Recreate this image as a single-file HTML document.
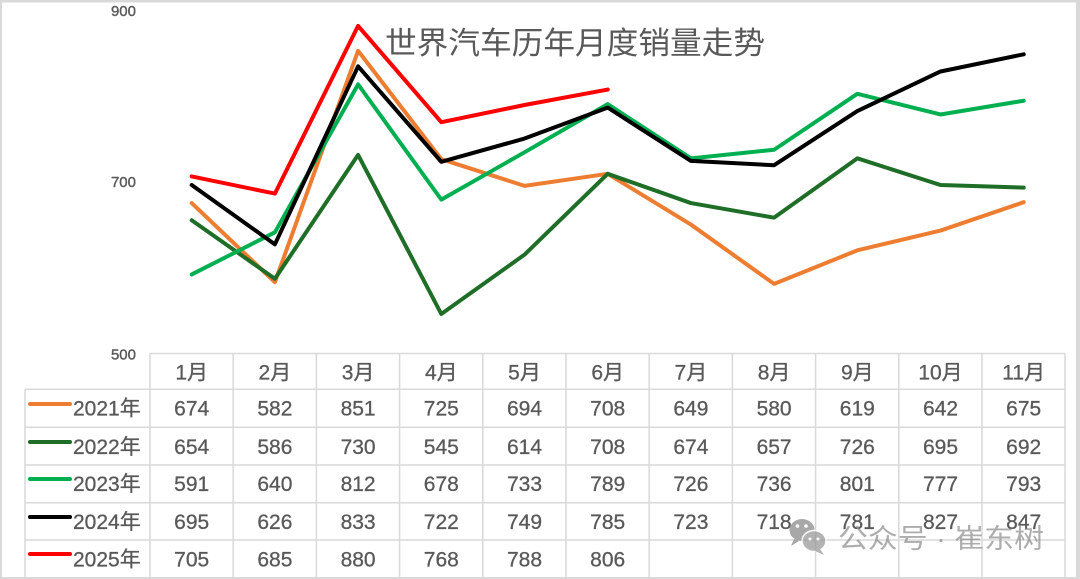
<!DOCTYPE html>
<html><head><meta charset="utf-8">
<style>
html,body{margin:0;padding:0;background:#fff;}
#wrap{position:relative;width:1080px;height:579px;overflow:hidden;background:#fff;}
svg{position:absolute;left:0;top:0;}
</style></head>
<body><div id="wrap">
<svg width="1080" height="579" viewBox="0 0 1080 579" xmlns="http://www.w3.org/2000/svg" font-family="'Liberation Sans','Noto Sans CJK SC',sans-serif">
<!-- outer frame -->
<rect x="0" y="0" width="1080" height="579" fill="#d9d9d9"/>
<rect x="2" y="2.5" width="1074" height="574.5" fill="#ffffff"/>

<!-- y labels -->
<g fill="#595959" font-size="15" text-anchor="end" stroke="#595959" stroke-width="0.4">
<text x="136" y="16">900</text>
<text x="136" y="187">700</text>
<text x="136" y="359.5">500</text>
</g>

<!-- title -->
<text x="385" y="54" font-size="31" fill="#595959" font-family="'Liberation Sans','Noto Sans CJK SC',sans-serif" textLength="380" lengthAdjust="spacingAndGlyphs">世界汽车历年月度销量走势</text>

<!-- series -->
<g fill="none" stroke-width="4" stroke-linejoin="round" stroke-linecap="round">
<polyline stroke="#ED7D31" points="191.7,203.06 274.9,282.18 358.1,50.84 441.3,159.2 524.5,185.86 607.7,173.82 690.9,224.56 774.1,283.9 857.3,250.36 940.5,230.58 1023.7,202.2"/>
<polyline stroke="#1F6E27" points="191.7,220.26 274.9,278.74 358.1,154.9 441.3,314.0 524.5,254.66 607.7,173.82 690.9,203.06 774.1,217.68 857.3,158.34 940.5,185.0 1023.7,187.58"/>
<polyline stroke="#00B050" points="191.7,274.44 274.9,232.3 358.1,84.38 441.3,199.62 524.5,152.32 607.7,104.16 690.9,158.34 774.1,149.74 857.3,93.84 940.5,114.48 1023.7,100.72"/>
<polyline stroke="#000000" points="191.7,185.0 274.9,244.34 358.1,66.32 441.3,161.78 524.5,138.56 607.7,107.6 690.9,160.92 774.1,165.22 857.3,111.04 940.5,71.48 1023.7,54.28"/>
<polyline stroke="#FF0000" points="191.7,176.4 274.9,193.6 358.1,25.9 441.3,122.22 524.5,105.02 607.7,89.54"/>
</g>

<!-- table grid -->
<g stroke="#d9d9d9" stroke-width="1.5" fill="none">
<line x1="150" y1="353.5" x2="1065" y2="353.5"/>
<line x1="25" y1="389.3" x2="1065" y2="389.3"/>
<line x1="25" y1="427.3" x2="1065" y2="427.3"/>
<line x1="25" y1="465" x2="1065" y2="465"/>
<line x1="25" y1="502.7" x2="1065" y2="502.7"/>
<line x1="25" y1="540" x2="1065" y2="540"/>
<line x1="25" y1="389.3" x2="25" y2="577"/>
<line x1="150" y1="353.5" x2="150" y2="577"/>
<line x1="233.2" y1="353.5" x2="233.2" y2="577"/>
<line x1="316.4" y1="353.5" x2="316.4" y2="577"/>
<line x1="399.6" y1="353.5" x2="399.6" y2="577"/>
<line x1="482.8" y1="353.5" x2="482.8" y2="577"/>
<line x1="566" y1="353.5" x2="566" y2="577"/>
<line x1="649.2" y1="353.5" x2="649.2" y2="577"/>
<line x1="732.4" y1="353.5" x2="732.4" y2="577"/>
<line x1="815.6" y1="353.5" x2="815.6" y2="577"/>
<line x1="898.8" y1="353.5" x2="898.8" y2="577"/>
<line x1="982" y1="353.5" x2="982" y2="577"/>
<line x1="1065" y1="353.5" x2="1065" y2="577"/>
</g>

<!-- legend keys -->
<g stroke-width="4" stroke-linecap="round">
<line x1="30" y1="404" x2="70" y2="404" stroke="#ED7D31"/>
<line x1="30" y1="442" x2="70" y2="442" stroke="#1F6E27"/>
<line x1="30" y1="479" x2="70" y2="479" stroke="#00B050"/>
<line x1="30" y1="517" x2="70" y2="517" stroke="#000000"/>
<line x1="30" y1="554" x2="70" y2="554" stroke="#FF0000"/>
</g>

<g fill="#595959" font-size="21" stroke="#595959" stroke-width="0.3">
<text x="73" y="415.5">2021年</text>
<text x="73" y="454">2022年</text>
<text x="73" y="491">2023年</text>
<text x="73" y="529">2024年</text>
<text x="73" y="566.5">2025年</text>
</g>

<g fill="#595959" font-size="21" text-anchor="middle" stroke="#595959" stroke-width="0.3">
<!-- header -->
<text x="191.7" y="379.5">1月</text>
<text x="274.9" y="379.5">2月</text>
<text x="358.1" y="379.5">3月</text>
<text x="441.3" y="379.5">4月</text>
<text x="524.5" y="379.5">5月</text>
<text x="607.7" y="379.5">6月</text>
<text x="690.9" y="379.5">7月</text>
<text x="774.1" y="379.5">8月</text>
<text x="857.3" y="379.5">9月</text>
<text x="940.5" y="379.5">10月</text>
<text x="1023.7" y="379.5">11月</text>
<!-- 2021 -->
<text x="191.7" y="415.5">674</text><text x="274.9" y="415.5">582</text><text x="358.1" y="415.5">851</text><text x="441.3" y="415.5">725</text><text x="524.5" y="415.5">694</text><text x="607.7" y="415.5">708</text><text x="690.9" y="415.5">649</text><text x="774.1" y="415.5">580</text><text x="857.3" y="415.5">619</text><text x="940.5" y="415.5">642</text><text x="1023.7" y="415.5">675</text>
<!-- 2022 -->
<text x="191.7" y="454">654</text><text x="274.9" y="454">586</text><text x="358.1" y="454">730</text><text x="441.3" y="454">545</text><text x="524.5" y="454">614</text><text x="607.7" y="454">708</text><text x="690.9" y="454">674</text><text x="774.1" y="454">657</text><text x="857.3" y="454">726</text><text x="940.5" y="454">695</text><text x="1023.7" y="454">692</text>
<!-- 2023 -->
<text x="191.7" y="491">591</text><text x="274.9" y="491">640</text><text x="358.1" y="491">812</text><text x="441.3" y="491">678</text><text x="524.5" y="491">733</text><text x="607.7" y="491">789</text><text x="690.9" y="491">726</text><text x="774.1" y="491">736</text><text x="857.3" y="491">801</text><text x="940.5" y="491">777</text><text x="1023.7" y="491">793</text>
<!-- 2024 -->
<text x="191.7" y="529">695</text><text x="274.9" y="529">626</text><text x="358.1" y="529">833</text><text x="441.3" y="529">722</text><text x="524.5" y="529">749</text><text x="607.7" y="529">785</text><text x="690.9" y="529">723</text><text x="774.1" y="529">718</text><text x="857.3" y="529">781</text><text x="940.5" y="529">827</text><text x="1023.7" y="529">847</text>
<!-- 2025 -->
<text x="191.7" y="566.5">705</text><text x="274.9" y="566.5">685</text><text x="358.1" y="566.5">880</text><text x="441.3" y="566.5">768</text><text x="524.5" y="566.5">788</text><text x="607.7" y="566.5">806</text>
</g>

<!-- watermark -->
<g opacity="0.75">
<ellipse cx="802" cy="530" rx="12.5" ry="11" fill="#8c8c8c"/>
<path d="M794,539 L791,546 L799,541 Z" fill="#8c8c8c"/>
<ellipse cx="814" cy="541" rx="12" ry="10.5" fill="#9a9a9a" stroke="#ffffff" stroke-width="1.5"/>
<path d="M820,549 L824,555 L815,551 Z" fill="#9a9a9a"/>
<circle cx="797.5" cy="526" r="1.8" fill="#fff"/>
<circle cx="806" cy="526" r="1.8" fill="#fff"/>
<circle cx="810" cy="539" r="1.5" fill="#fff"/>
<circle cx="818" cy="539" r="1.5" fill="#fff"/>
</g>
<text x="838" y="548" font-size="27" fill="#8a8a8a" fill-opacity="0.7" textLength="206" lengthAdjust="spacingAndGlyphs">公众号 · 崔东树</text>
</svg>
</div></body></html>
